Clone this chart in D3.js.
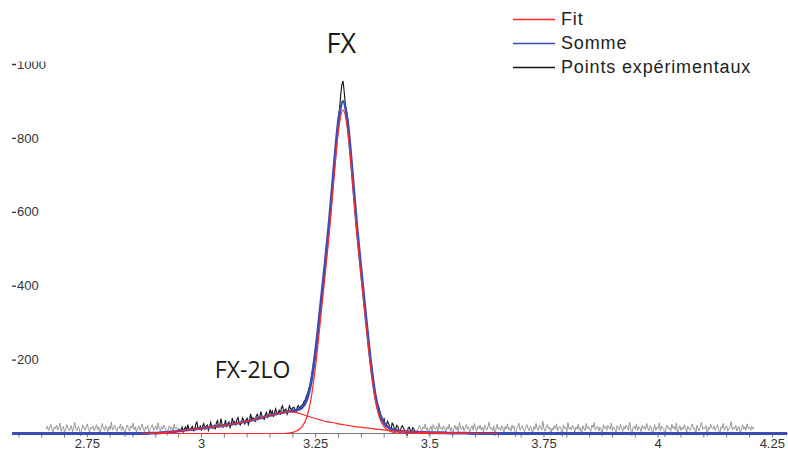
<!DOCTYPE html>
<html><head><meta charset="utf-8">
<script src="https://cdn.jsdelivr.net/npm/d3@7"></script>
<style>body{margin:0;background:#fff}svg{display:block}</style>
</head><body>
<script>
// ---- data ----
const fitStart = 2.87, fitStep = 0.01;
const fitFX = [0,0,0,0,0,0,0,0,0,0, 0,0,0,0,0,0,0,0,0,0, 0,0,0,0,0,0,0,0,0,0, 0,0,
  1,3,8,18,42,95,185,300,420,545,690,820,875,820,690,545,420,300,185,95,42,18,8,3,1,
  0,0,0,0,0,0,0,0,0,0,0,0,0,0,0,0,0,0,0,0,0,0];
const fit2LO = [0,0,1,1,2,3,4,5,7,8, 10,11,13,14,16,17,19,20,22,24, 26,28,31,33,36,39,42,46,49,52,
  55,57,59,58,56,52,48,44,40,37, 33,31,29,26,24,22,20,18,17,15, 14,12,11,10,8,7,6,6,5,4,
  4,3,3,2,2,2,2,1,1,1, 1,1,0,0,0,0,0,0,0];
const somme = [0,0,1,1,2,3,4,5,7,8, 10,11,13,14,16,17,19,20,22,24, 26,28,31,33,36,39,42,46,49,52,
  55,57,60,61,64,70,90,139,225,337, 453,576,719,846,899,842,710,563,437,315, 199,107,53,28,16,10,7,6,5,4,
  4,3,3,2,2,2,2,1,1,1, 1,1,0,0,0,0,0,0,0];

const expStep = 0.0025;
const expLeftStart = 2.66;
const expLeft = [
  12,20,8,15,25,10,4,18,13,22,9,16,28,6,14,19,3,11,24,17,
  8,13,21,5,16,30,12,7,19,14,-6,10,23,15,9,18,26,11,4,17,
  13,20,7,15,24,10,18,-4,12,27,16,8,21,14,5,19,11,31,9,15,
  22,12,6,17,14,25,8,19,11,-8,16,23,13,7,20,15,28,10,18,4,
  14,21,9,16,26,12,5,18,13,22,-3,11,17,24,8,15,20,10,29,14,
  7,19,12,23,16,9,-5,15,21,11,17,6,25,13,18,10,13];
const expMidStart = 2.95;
const expMid = [
  13,6,9,17,4,12,18,8,24,11,10,15,19,7,9,26,31,12,15,20,8,
  21,27,12,19,23,8,17,30,19,14,22,11,28,35,18,23,40,25,17,21,
  36,19,26,31,16,24,42,29,32,24,38,43,27,23,31,42,35,26,36,41,
  24,33,53,38,43,36,33,48,52,39,45,59,47,40,38,52,57,44,49,65,
  54,61,45,58,67,52,57,63,51,70,75,58,63,66,52,61,75,68,64,70,
  71,62,60,72,75,66,74,76,
  80,88,92,102,108,122,130,147,165,186,205,234,252,284,312,343,
  362,392,428,458,480,510,548,582,612,651,680,714,760,793,820,856,
  880,920,945,954,925,890,872,850,815,786,748,714,672,631,598,570,530,496,470,442,
  408,379,345,311,290,263,230,202,180,155,128,113,92,82,74,63,50,44,35,40,
  20,24,33,26,15,10,28,24,12,11,22,19,6,1,17,21,14,9,2,-3,15,17,8,5,16,13,4,-1];
const expRightStart = 3.47;
const expRight = [
  -1,8,15,22,10,5,18,13,26,9,16,-4,12,20,7,24,14,11,19,6,
  28,13,17,9,21,15,3,18,12,25,8,16,-7,14,22,10,19,5,30,13,
  11,20,7,16,24,12,18,-2,14,21,9,27,15,6,19,13,23,10,17,4,
  22,14,9,18,31,12,16,7,20,-6,13,25,11,17,8,21,15,3,19,12,
  26,10,16,6,23,14,19,-9,12,18,28,9,15,21,11,5,17,24,13,8,
  20,15,-3,19,11,27,14,8,22,16,10,33,13,6,18,24,12,17,-5,15,
  9,21,13,26,7,16,19,11,-8,23,14,18,5,29,12,17,10,22,15,4,
  18,12,25,9,16,-4,21,14,8,27,13,19,11,6,23,16,30,10,15,20,
  7,17,12,-7,24,14,19,9,22,15,11,28,8,18,13,-2,21,16,10,25,
  14,6,19,12,23,17,9,31,13,-6,16,20,11,26,8,18,15,5,22,13,
  19,10,27,14,8,21,16,-3,12,24,9,17,13,29,7,20,15,11,-9,18,
  23,12,16,6,25,14,19,10,28,-5,13,21,8,17,11,24,15,4,20,13,
  9,18,26,12,15,-2,22,14,7,19,30,11,16,13,21,-7,17,10,25,15,
  12,20,8,16,24,11,-4,18,14,27,9,15,21,6,13,19,32,10,17,12,
  22,7,15,19,-3,13,24,11,18,9,26,14,17,8,20,12,15];

const xDomain = [2.585, 4.28];
const yDomain = [0, 1000];
const xMajor = [2.75, 3, 3.25, 3.5, 3.75, 4, 4.25];
const xLabels = ["2.75", "3", "3.25", "3.5", "3.75", "4", "4.25"];
const xMinorStep = 0.05;
const yTicks = [200, 400, 600, 800, 1000];
const yLabels = ["200", "400", "600", "800", "1000"];
const legendNames = ["Fit", "Somme", "Points expérimentaux"];
const annotationTexts = ["FX", "FX-2LO"];
const annotationX = [3.306, 3.112];
const annotationY = [1030, 150];
const annotationSize = [27, 23];

// ---- drawing ----
const W = 788, H = 450;
const colors = {fit: "#ff2a2a", somme: "#3b4db5", exp: "#111111", expOut: "#8c8c8c"};
const svg = d3.select("body").append("svg").attr("width", W).attr("height", H);
const x = d3.scaleLinear().domain(xDomain).range([12, 786]);
const y = d3.scaleLinear().domain(yDomain).range([433.5, 64]);

const series = (start, step, vals) => vals.map((v, i) => [start + i * step, v]);
const lineSmooth = d3.line().x(d => x(d[0])).y(d => y(d[1])).curve(d3.curveMonotoneX);
const lineRaw = d3.line().x(d => x(d[0])).y(d => y(d[1]));

const defs = svg.append("defs");
defs.append("clipPath").attr("id", "plot")
  .append("rect").attr("x", 0).attr("y", 0).attr("width", 787).attr("height", H);
defs.append("clipPath").attr("id", "yclip")
  .append("rect").attr("x", 0).attr("y", 61.5).attr("width", 80).attr("height", H);

// x axis ticks
const ax = svg.append("g");
const minor = d3.range(Math.round(2.6 / xMinorStep), Math.round(4.25 / xMinorStep) + 1).map(k => k * xMinorStep);
ax.selectAll("line.t").data(minor).join("line")
  .attr("x1", d => x(d)).attr("x2", d => x(d)).attr("y1", 433).attr("y2", 437.5)
  .attr("stroke", "#777").attr("stroke-width", 1);
ax.append("line").attr("x1", 12).attr("x2", 788).attr("y1", 433.5).attr("y2", 433.5).attr("stroke", "#777");
ax.selectAll("text").data(xMajor).join("text")
  .attr("x", d => x(d)).attr("y", 447.5).attr("text-anchor", "middle")
  .attr("font-family", "'Liberation Sans', Arial, sans-serif").attr("font-size", 13).attr("fill", "#333")
  .text((d, i) => xLabels[i]);

// y axis labels
const ay = svg.append("g").attr("clip-path", "url(#yclip)");
ay.selectAll("line").data(yTicks).join("line")
  .attr("x1", 12).attr("x2", 16).attr("y1", d => y(d) + 0.5).attr("y2", d => y(d) + 0.5)
  .attr("stroke", "#333").attr("stroke-width", 1.3);
ay.selectAll("text").data(yTicks).join("text")
  .attr("x", 17).attr("y", d => y(d)).attr("dy", "0.36em")
  .attr("font-family", "'Liberation Sans', Arial, sans-serif").attr("font-size", 13).attr("fill", "#333")
  .text((d, i) => yLabels[i]);

const plot = svg.append("g").attr("clip-path", "url(#plot)");
// experimental points
plot.append("path").datum(series(expLeftStart, expStep, expLeft)).attr("d", lineRaw)
  .attr("fill", "none").attr("stroke", colors.expOut).attr("stroke-width", 0.9);
plot.append("path").datum(series(expRightStart, expStep, expRight)).attr("d", lineRaw)
  .attr("fill", "none").attr("stroke", colors.expOut).attr("stroke-width", 0.9);
plot.append("path").datum(series(expMidStart, expStep, expMid)).attr("d", lineRaw)
  .attr("fill", "none").attr("stroke", colors.exp).attr("stroke-width", 1.1);
// somme (zero outside the fit window)
const sommeData = [[xDomain[0], 0]].concat(series(fitStart, fitStep, somme), [[xDomain[1] + 0.01, 0]]);
plot.append("path").datum(sommeData).attr("d", lineSmooth)
  .attr("fill", "none").attr("stroke", colors.somme).attr("stroke-width", 2.8);
// fit components
[fitFX, fit2LO].forEach(arr => {
  plot.append("path").datum(series(fitStart, fitStep, arr)).attr("d", lineSmooth)
    .attr("fill", "none").attr("stroke", colors.fit).attr("stroke-width", 1.2);
});

// annotations
svg.selectAll("text.ann").data(annotationTexts).join("text").attr("class", "ann")
  .attr("x", (d, i) => x(annotationX[i])).attr("y", (d, i) => y(annotationY[i]))
  .attr("text-anchor", "middle").attr("font-family", "'Open Sans', 'Noto Sans', sans-serif")
  .attr("font-size", (d, i) => annotationSize[i]).attr("fill", "#1a1a1a").text(d => d);

// legend
const legColors = [colors.fit, colors.somme, colors.exp];
const lg = svg.append("g");
legendNames.forEach((name, i) => {
  const yy = 19.5 + i * 24;
  lg.append("line").attr("x1", 513).attr("x2", 555).attr("y1", yy).attr("y2", yy)
    .attr("stroke", legColors[i]).attr("stroke-width", 1.6);
  lg.append("text").attr("x", 561).attr("y", yy + 5.8)
    .attr("font-family", "'Liberation Sans', Arial, sans-serif").attr("font-size", 18)
    .attr("letter-spacing", "0.85px").attr("fill", "#222").text(name);
});
</script>
</body></html>
